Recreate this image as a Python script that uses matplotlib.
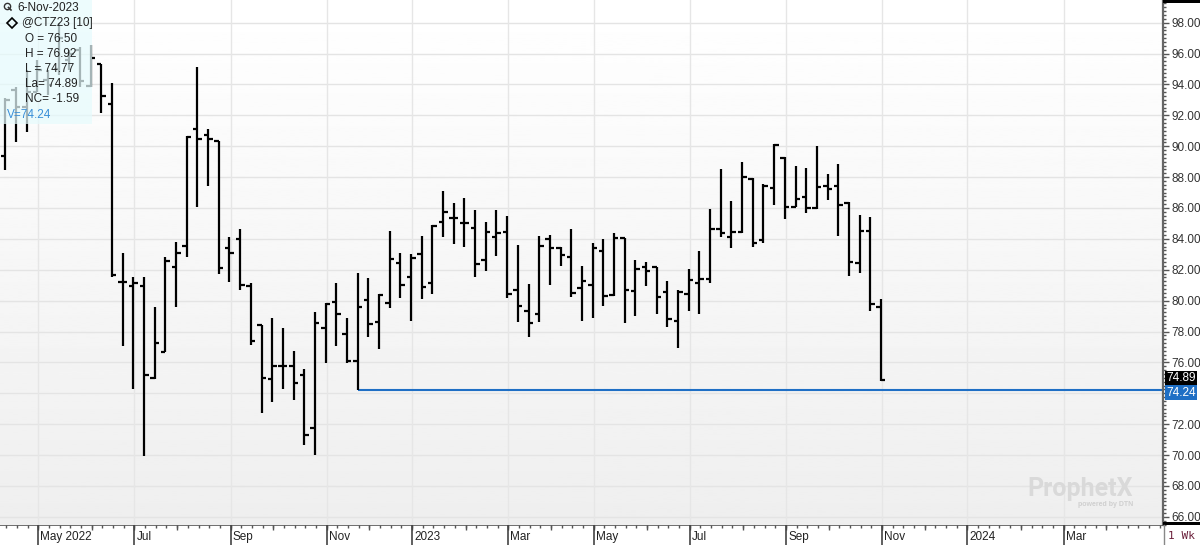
import matplotlib
matplotlib.use('Agg')
import matplotlib.pyplot as plt
import numpy as np
import pandas as pd
from matplotlib.lines import Line2D
from matplotlib.patches import Rectangle
from matplotlib.transforms import blended_transform_factory

plt.rcParams['font.family'] = ['Liberation Sans', 'DejaVu Sans']

# weekly bars for @CTZ23, week starting Monday
first_week = '2022-04-11'

opens = [89.37, 93.64, 92.54, 93.51, 94.29, 95.00, 95.60, 96.23, 93.90, 95.30,
         92.73, 81.23, 80.95, 80.97, 75.00, 76.70, 82.20, 83.56, 91.09, 90.73,
         90.36, 83.39, 83.97, 80.95, 78.42, 74.95, 75.77, 75.77, 75.18, 71.77,
         78.20, 79.93, 77.82, 76.11, 80.04, 78.60, 79.83, 82.42, 81.51, 82.99,
         81.16, 85.12, 85.33, 85.05, 84.68, 82.63, 84.14, 84.46, 80.68, 79.35,
         79.11, 83.97, 83.43, 82.85, 80.79, 81.01, 83.24, 80.34, 84.04, 80.62,
         82.20, 82.16, 80.58, 78.68, 80.43, 81.16, 81.40, 84.62, 84.14, 84.44,
         87.86, 83.93, 87.27, 89.26, 86.08, 86.69, 86.02, 87.42, 87.44, 86.34,
         82.42, 84.51, 79.56]
highs = [93.10, 93.86, 94.94, 95.58, 94.94, 98.00, 96.23, 96.45, 96.55, 95.35,
         94.07, 83.06, 81.55, 81.55, 79.61, 82.85, 83.82, 90.66, 95.15, 91.09,
         90.36, 84.10, 84.66, 81.16, 78.42, 78.85, 78.25, 76.74, 75.55, 79.28,
         79.82, 81.12, 78.85, 81.77, 81.49, 80.41, 84.53, 83.06, 82.99, 84.19,
         84.90, 87.13, 86.31, 86.63, 85.87, 85.07, 85.87, 85.50, 83.60, 81.06,
         84.19, 84.25, 83.45, 84.62, 82.26, 83.71, 83.97, 84.40, 84.08, 82.63,
         82.52, 82.20, 81.27, 80.68, 82.05, 83.22, 85.91, 88.50, 86.45, 88.96,
         87.92, 87.53, 90.12, 89.33, 88.72, 88.57, 90.02, 88.18, 88.85, 86.36,
         85.55, 85.40, 80.09]
lows = [88.46, 90.29, 90.90, 93.51, 93.32, 94.61, 94.94, 93.86, 93.86, 92.13,
        81.55, 77.06, 74.26, 69.94, 74.90, 76.69, 79.61, 82.81, 86.08, 87.44,
        81.70, 81.23, 80.68, 77.13, 72.74, 73.45, 74.26, 73.56, 70.65, 70.00,
        75.98, 77.06, 75.94, 74.24, 77.63, 76.85, 79.50, 80.15, 78.68, 80.09,
        80.41, 84.14, 83.65, 83.46, 81.55, 81.94, 82.91, 80.15, 78.64, 77.63,
        78.60, 81.01, 82.26, 80.26, 78.68, 78.85, 79.65, 80.30, 78.57, 79.02,
        80.95, 79.13, 78.31, 76.91, 79.33, 79.11, 81.16, 84.10, 83.39, 84.40,
        83.49, 83.71, 86.19, 85.27, 86.04, 85.65, 85.91, 86.52, 84.21, 81.61,
        81.81, 79.33, 74.77]
closes = [93.00, 92.52, 93.51, 94.94, 93.97, 97.00, 96.00, 94.20, 95.69, 93.25,
          81.66, 81.23, 81.12, 75.18, 77.24, 82.57, 83.10, 90.62, 90.45, 90.45,
          82.09, 83.10, 81.01, 77.41, 74.97, 75.77, 75.77, 74.69, 71.30, 78.52,
          79.78, 79.11, 76.11, 79.61, 78.47, 80.36, 82.68, 81.01, 82.78, 80.90,
          84.81, 85.72, 85.33, 85.03, 82.37, 84.46, 84.40, 80.41, 79.67, 78.57,
          83.56, 83.43, 82.93, 80.52, 81.29, 83.39, 80.30, 84.04, 80.68, 82.03,
          81.94, 80.26, 78.79, 80.54, 81.34, 81.40, 84.62, 84.40, 84.44, 88.03,
          83.71, 87.44, 90.08, 86.04, 86.56, 86.02, 87.33, 87.25, 86.19, 82.52,
          84.51, 79.78, 74.89]

support_level = 74.24
support_from = 33   # week index of the Nov-2022 low
info_lines = ['O = 76.50', 'H = 76.92', 'L = 74.77', 'La= 74.89', 'NC= -1.59']

n = len(opens)
x = np.arange(n)
weeks = pd.date_range(first_week, periods=110, freq='W-MON')

W, H = 1200, 545
fig = plt.figure(figsize=(W / 100, H / 100), dpi=100)
fig.patch.set_facecolor('white')

def fx(px):
    return px / W

def fy(py):
    return 1 - py / H

ax = fig.add_axes([0, fy(525), fx(1163), 525 / H])
strip = fig.add_axes([0, 0, fx(1163), 20 / H])

xmin, xmax = -0.487, 108.41
ymin, ymax = 65.47, 99.47
ax.set_xlim(xmin, xmax)
ax.set_ylim(ymin, ymax)

# background gradient
grad = np.linspace(1.0, 0.935, 256).reshape(-1, 1)
ax.imshow(grad, cmap='gray', vmin=0, vmax=1, aspect='auto',
          extent=[xmin, xmax, ymin, ymax], origin='upper', zorder=0)

# grid
for v in np.arange(66, 99, 2):
    ax.axhline(v, color='#e4e4e4', lw=1, zorder=1)

# month positions (only those inside the visible range)
month_starts = []
for i in range(1, len(weeks)):
    if weeks[i].month != weeks[i - 1].month and i < xmax - 1:
        month_starts.append(i)

labeled = []
first = True
for i in month_starts:
    d = weeks[i]
    if d.month % 2 == 1:
        if first:
            lab = d.strftime('%b %Y')
            first = False
        elif d.month == 1:
            lab = str(d.year)
        else:
            lab = d.strftime('%b')
        labeled.append((i, lab))

for i, lab in labeled:
    ax.axvline(i + 0.1, color='#e6e6e6', lw=1, zorder=1)

# OHLC bars
tw = 0.42
ax.vlines(x, lows, highs, color='black', lw=1.6, zorder=3, capstyle='butt')
ax.hlines(opens, x - tw, x, color='black', lw=1.6, zorder=3)
ax.hlines(closes, x, x + tw, color='black', lw=1.6, zorder=3)

ax.hlines(support_level, support_from, xmax, color='#1f6fc5', lw=1.5, zorder=2)

# right price axis
ax.yaxis.tick_right()
yt = np.arange(66, 99, 2)
ax.set_yticks(yt)
ax.set_yticks(np.arange(65.5, 99.5, 0.25), minor=True)
# the 74.00 label sits under the price flags, as in the terminal
ax.set_yticklabels(['' if v == 74 else '%.2f' % v for v in yt])
ax.tick_params(axis='y', which='major', direction='out', length=4, width=1,
               color='#555555', labelsize=8.5, labelcolor='#333333', pad=2)
ax.tick_params(axis='y', which='minor', direction='out', length=2, width=1,
               color='#555555')
ax.set_xticks([])
for s in ['top', 'left', 'bottom']:
    ax.spines[s].set_visible(False)
ax.spines['right'].set_color('#666666')
ax.spines['right'].set_linewidth(1.6)

tr = blended_transform_factory(ax.transAxes, ax.transData)
ax.text(1.003, closes[-1] + 0.12, '%.2f' % closes[-1], transform=tr, ha='left',
        va='center', fontsize=8.5, color='white', zorder=6,
        bbox=dict(boxstyle='square,pad=0.1', fc='black', ec='none'))
ax.text(1.003, support_level - 0.2, '%.2f' % support_level, transform=tr,
        ha='left', va='center', fontsize=8.5, color='white', zorder=6,
        bbox=dict(boxstyle='square,pad=0.1', fc='#1f6fc5', ec='none'))

# date strip
strip.set_xlim(xmin, xmax)
strip.set_ylim(0, 20)
strip.axis('off')
strip.axhline(20, color='#555555', lw=1.2)
for i in range(len(weeks)):
    if i < xmax:
        strip.vlines(i + 0.1, 17, 20, color='#555555', lw=1)
for i in month_starts:
    strip.vlines(i + 0.1, 15.5, 20, color='#555555', lw=1)
for i, lab in labeled:
    strip.vlines(i + 0.1, 0, 20, color='#444444', lw=1.2)
    strip.text(i + 0.3, 8, lab, fontsize=8.5, color='#222222', ha='left',
               va='center')

# corner pieces on the right
fig.add_artist(Rectangle((fx(1163), fy(3)), fx(37), 3 / H, fc='black',
                         ec='none', transform=fig.transFigure))
fig.add_artist(Rectangle((fx(1163), fy(525)), fx(37), 3.5 / H, fc='black',
                         ec='none', transform=fig.transFigure))
fig.add_artist(Line2D([fx(1163.5), fx(1163.5)], [fy(525), 0], color='#888888',
                      lw=1, transform=fig.transFigure))
fig.text(fx(1168), fy(536), '1 Wk', family='DejaVu Sans Mono', fontsize=8,
         color='#6b1f3a', va='center', ha='left')

# watermark
fig.text(fx(1080), fy(489), 'ProphetX', fontsize=18, fontweight='bold',
         family='Roboto', color='#d9d9d9', ha='center', va='center')
fig.text(fx(1106), fy(504), 'powered by DTN', fontsize=5, color='#cfcfcf',
         ha='center', va='center', fontweight='bold')

# info box
fig.add_artist(Rectangle((0, fy(124)), fx(92), 124 / H, fc='#e6fbfd',
                         ec='none', alpha=0.72, transform=fig.transFigure,
                         zorder=5))
fig.add_artist(Line2D([fx(6.5)], [fy(5.5)], marker='o', ms=4.5, mfc='none',
                      mec='#333333', mew=1, transform=fig.transFigure, zorder=6))
fig.add_artist(Line2D([fx(8.5), fx(11)], [fy(7.5), fy(10)], color='#333333',
                      lw=1.2, transform=fig.transFigure, zorder=6))
fig.text(fx(17), fy(8), '6-Nov-2023', fontsize=8.5, color='#222222',
         va='center', ha='left', zorder=6)
fig.add_artist(Line2D([fx(12)], [fy(23)], marker='D', ms=5, mfc='none',
                      mec='black', mew=1.2, transform=fig.transFigure, zorder=6))
fig.text(fx(22), fy(23), '@CTZ23 [10]', fontsize=8.5, color='#222222',
         va='center', ha='left', zorder=6)
for k, line in enumerate(info_lines):
    fig.text(fx(25), fy(39 + 15 * k), line, fontsize=8.5, color='#222222',
             va='center', ha='left', zorder=6)
fig.text(fx(7), fy(115), 'V=%.2f' % support_level, fontsize=8.5,
         color='#3a8fd8', va='center', ha='left', zorder=6)

fig.savefig('out.png', dpi=100)
